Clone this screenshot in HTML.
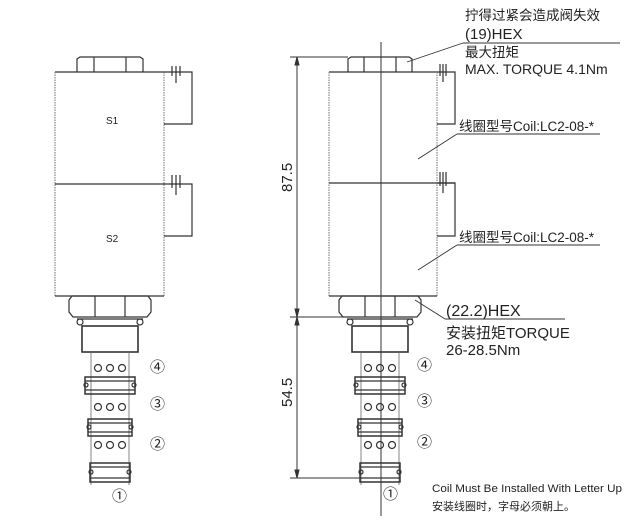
<!DOCTYPE html>
<html><head><meta charset="utf-8"><style>
html,body{margin:0;padding:0;background:#fff;}
svg{display:block;}
text{font-family:"Liberation Sans","Noto Sans CJK SC",sans-serif;fill:#222;}
</style></head><body>
<svg width="636" height="521" viewBox="0 0 636 521" xmlns="http://www.w3.org/2000/svg">
<defs>
<g id="bot" fill="none" stroke="#333" stroke-width="1.2">
  <path d="M-38,296 L38,296 L41,300 L41,312 L37,317 L-37,317 L-41,312 L-41,300 Z"/>
  <line x1="-15" y1="296" x2="-15" y2="317"/><line x1="15" y1="296" x2="15" y2="317"/>
  <line x1="-33" y1="319" x2="33" y2="319"/>
  <circle cx="-30" cy="322" r="3"/><circle cx="30" cy="322" r="3"/>
  <rect x="-28" y="326" width="56" height="26" stroke-width="1.6"/>
  <line x1="-19" y1="352" x2="-19" y2="485" stroke-width="0.8" stroke="#666"/>
  <line x1="19" y1="352" x2="19" y2="485" stroke-width="0.8" stroke="#666"/>
  <circle cx="-12" cy="368" r="3.5"/><circle cx="0" cy="368" r="3.5"/><circle cx="12" cy="368" r="3.5"/>
  <circle cx="-12" cy="407" r="3.5"/><circle cx="0" cy="407" r="3.5"/><circle cx="12" cy="407" r="3.5"/>
  <circle cx="-12" cy="445" r="3.5"/><circle cx="0" cy="445" r="3.5"/><circle cx="12" cy="445" r="3.5"/>
  <rect x="-25" y="377" width="50" height="17" stroke-width="1.5"/><line x1="-25" y1="381" x2="25" y2="381"/><line x1="-25" y1="390" x2="25" y2="390"/>
  <circle cx="-24" cy="385" r="2"/><circle cx="24" cy="385" r="2"/>
  <rect x="-22" y="419" width="44" height="17" stroke-width="1.5"/><line x1="-22" y1="423" x2="22" y2="423"/><line x1="-22" y1="432" x2="22" y2="432"/>
  <circle cx="-21" cy="427" r="2"/><circle cx="21" cy="427" r="2"/>
  <rect x="-20" y="463" width="40" height="19" stroke-width="1.5"/><line x1="-20" y1="467" x2="20" y2="467"/><line x1="-20" y1="478" x2="20" y2="478"/>
  <circle cx="-19" cy="472" r="2"/><circle cx="19" cy="472" r="2"/>
</g>
</defs>

<g fill="none" stroke="#333" stroke-width="1.2">
  <path d="M77,72 L77,59 L80,57 L140,57 L143,59 L143,72"/>
  <line x1="94" y1="57" x2="94" y2="72"/><line x1="126" y1="57" x2="126" y2="72"/>
  <line x1="55" y1="72" x2="164" y2="72"/>
  <line x1="55" y1="72" x2="55" y2="296" stroke="#888" stroke-dasharray="1.5,1"/>
  <line x1="164" y1="72" x2="164" y2="296" stroke="#888" stroke-dasharray="1.5,1"/>
  <line x1="55" y1="184" x2="164" y2="184"/>
  <line x1="55" y1="296" x2="164" y2="296"/>
  <path d="M164,72 L192,72 L192,124 L164,124"/>
  <path d="M164,184 L192,184 L192,236 L164,236"/>
  <line x1="172" y1="66" x2="172" y2="76"/><line x1="176" y1="66" x2="176" y2="83"/><line x1="180" y1="66" x2="180" y2="76"/>
  <line x1="172" y1="175" x2="172" y2="188"/><line x1="176" y1="175" x2="176" y2="195"/><line x1="180" y1="175" x2="180" y2="188"/>
</g>
<text x="106" y="124" font-size="10">S1</text>
<text x="106" y="242" font-size="10">S2</text>
<use href="#bot" transform="translate(110,0)"/>
<g font-size="15" fill="#333">
<text x="150" y="372">④</text><text x="150" y="409">③</text><text x="150" y="449">②</text><text x="112" y="501">①</text>
</g>

<g fill="none" stroke="#333" stroke-width="1.2">
  <path d="M348,72 L348,59 L351,57 L409,57 L412,59 L412,72"/>
  <line x1="364" y1="57" x2="364" y2="72"/><line x1="396" y1="57" x2="396" y2="72"/>
  <line x1="329" y1="72" x2="437" y2="72"/>
  <line x1="329" y1="72" x2="329" y2="296" stroke="#888" stroke-dasharray="1.5,1"/>
  <line x1="437" y1="72" x2="437" y2="296" stroke="#888" stroke-dasharray="1.5,1"/>
  <line x1="329" y1="183" x2="455" y2="183"/>
  <line x1="329" y1="296" x2="437" y2="296"/>
  <path d="M437,72 L455,72 L455,124 L437,124"/>
  <path d="M437,183 L455,183 L455,236 L437,236"/>
  <line x1="440" y1="64" x2="440" y2="76"/><line x1="443" y1="64" x2="443" y2="82"/><line x1="446" y1="64" x2="446" y2="76"/>
  <line x1="440" y1="172" x2="440" y2="186"/><line x1="443" y1="172" x2="443" y2="193"/><line x1="446" y1="172" x2="446" y2="186"/>
</g>
<use href="#bot" transform="translate(380,0)"/>
<line x1="381" y1="42" x2="381" y2="516" stroke="#333" stroke-width="1"/>
<g font-size="15" fill="#333">
<text x="417" y="370">④</text><text x="417" y="406">③</text><text x="417" y="447">②</text><text x="383" y="499">①</text>
</g>

<g stroke="#333" stroke-width="1" fill="#333">
  <line x1="297" y1="57" x2="297" y2="478"/>
  <line x1="290" y1="57" x2="348" y2="57"/>
  <line x1="290" y1="317" x2="345" y2="317"/>
  <line x1="290" y1="478" x2="360" y2="478"/>
  <path d="M297,57 l-2,8 l4,0 Z"/>
  <path d="M297,317 l-2,-8 l4,0 Z"/><path d="M297,317 l-2,8 l4,0 Z"/>
  <path d="M297,478 l-2,-8 l4,0 Z"/>
</g>
<text transform="translate(292,192) rotate(-90)" font-size="15">87.5</text>
<text transform="translate(292,407) rotate(-90)" font-size="15">54.5</text>

<g stroke="#333" stroke-width="0.9" fill="none">
  <line x1="463" y1="43" x2="620" y2="43"/><line x1="463" y1="43" x2="407" y2="62"/>
  <line x1="457" y1="134" x2="600" y2="134"/><line x1="457" y1="134" x2="418" y2="159"/>
  <line x1="457" y1="245" x2="600" y2="245"/><line x1="457" y1="245" x2="418" y2="270"/>
  <line x1="445" y1="319" x2="565" y2="319"/><line x1="445" y1="319" x2="415" y2="300"/>
</g>
<g font-size="13">
<text x="465" y="20" font-size="13.5">拧得过紧会造成阀失效</text>
<text x="465" y="39" font-size="15">(19)HEX</text>
<text x="465" y="57" font-size="13.5">最大扭矩</text>
<text x="465" y="74" font-size="14">MAX. TORQUE 4.1Nm</text>
<text x="459" y="131" font-size="13.5">线圈型号Coil:LC2-08-*</text>
<text x="459" y="242" font-size="13.5">线圈型号Coil:LC2-08-*</text>
<text x="446" y="316" font-size="16">(22.2)HEX</text>
<text x="446" y="338" font-size="15">安装扭矩TORQUE</text>
<text x="446" y="355" font-size="15">26-28.5Nm</text>
<text x="432" y="492" font-size="11" textLength="190" lengthAdjust="spacingAndGlyphs">Coil Must Be Installed With Letter Up</text>
<text x="432" y="510" font-size="11">安装线圈时，字母必须朝上。</text>
</g>
</svg>
</body></html>
